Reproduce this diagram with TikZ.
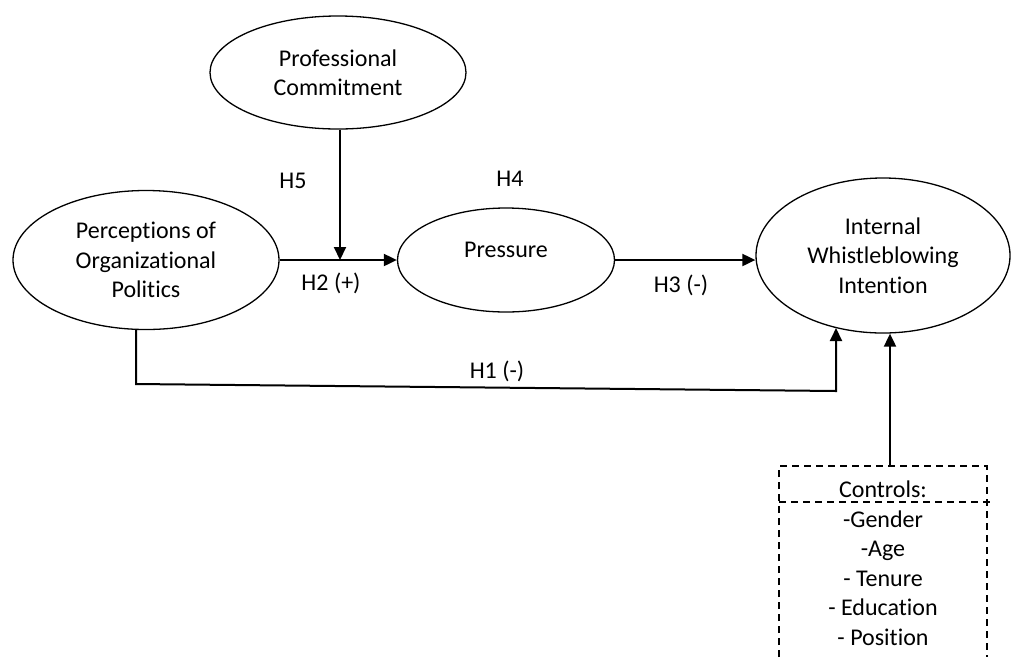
\documentclass[tikz,border=0pt]{standalone}
\usepackage{fontspec}
\setmainfont{Carlito}[Ligatures=NoCommon]
\usetikzlibrary{shapes,arrows.meta}

\begin{document}
\begin{tikzpicture}[x=1pt,y=-1pt,>={Triangle[length=13pt,width=12pt]},
    font=\fontsize{24}{29.5}\selectfont,
    ell/.style={draw, shape=ellipse, inner sep=0pt, line width=1.3pt, align=center},
    hyp/.style={anchor=base},
    conn/.style={line width=2pt},
    ctrlline/.style={line width=1.4pt, dash pattern=on 7pt off 5pt}]
    \useasboundingbox (0,0) rectangle (1011,657);
    \node[ell, minimum width=256pt, minimum height=113pt] (PC) at (338,72.5) {Professional\\Commitment};
    \node[ell, minimum width=266pt, minimum height=139pt] (POP) at (146,260) {Perceptions of\\Organizational\\Politics};
    \node[ell, minimum width=217pt, minimum height=104pt, text height=15pt, text depth=21pt] (Pres) at (506,260) {Pressure};
    \node[ell, minimum width=254pt, minimum height=155pt] (IWI) at (883,255.5) {Internal\\Whistleblowing\\Intention};
    \node[hyp] (H5) at (293,188) {H5};
    \node[hyp] (H4) at (510,186) {H4};
    \node[hyp] (H2) at (331,290) {H2 (+)};
    \node[hyp] (H3) at (681,292) {H3 (-)};
    \node[hyp] (H1) at (497,378) {H1 (-)};
    \coordinate (join) at (340,260);
    \coordinate (h1l) at (136,384);
    \coordinate (h1r) at (836,391);
    \coordinate (h1t) at (836,328);
    \coordinate (boxtop) at (890,466);
    \draw[conn,->] (POP.east) -- (Pres.west);
    \draw[conn,->] (PC.south -| join) -- (join);
    \draw[conn,->] (Pres.east) -- (Pres.east -| IWI.west);
    \draw[conn,->] (POP.south -| h1l) -- (h1l) -- (h1r) -- (h1t);
    \draw[conn,->] (boxtop) -- (boxtop |- IWI.south);
    \draw[ctrlline] (779,657) -- (779,466) -- (987,466) -- (987,657);
    \draw[ctrlline] (779,502) -- (992,502);
    \node[hyp] (ctrl) at (883,497) {Controls:};
    \node[anchor=base, align=center] (vars) at (883,645) {-Gender\\-Age\\- Tenure\\- Education\\- Position};
\end{tikzpicture}
\end{document}
